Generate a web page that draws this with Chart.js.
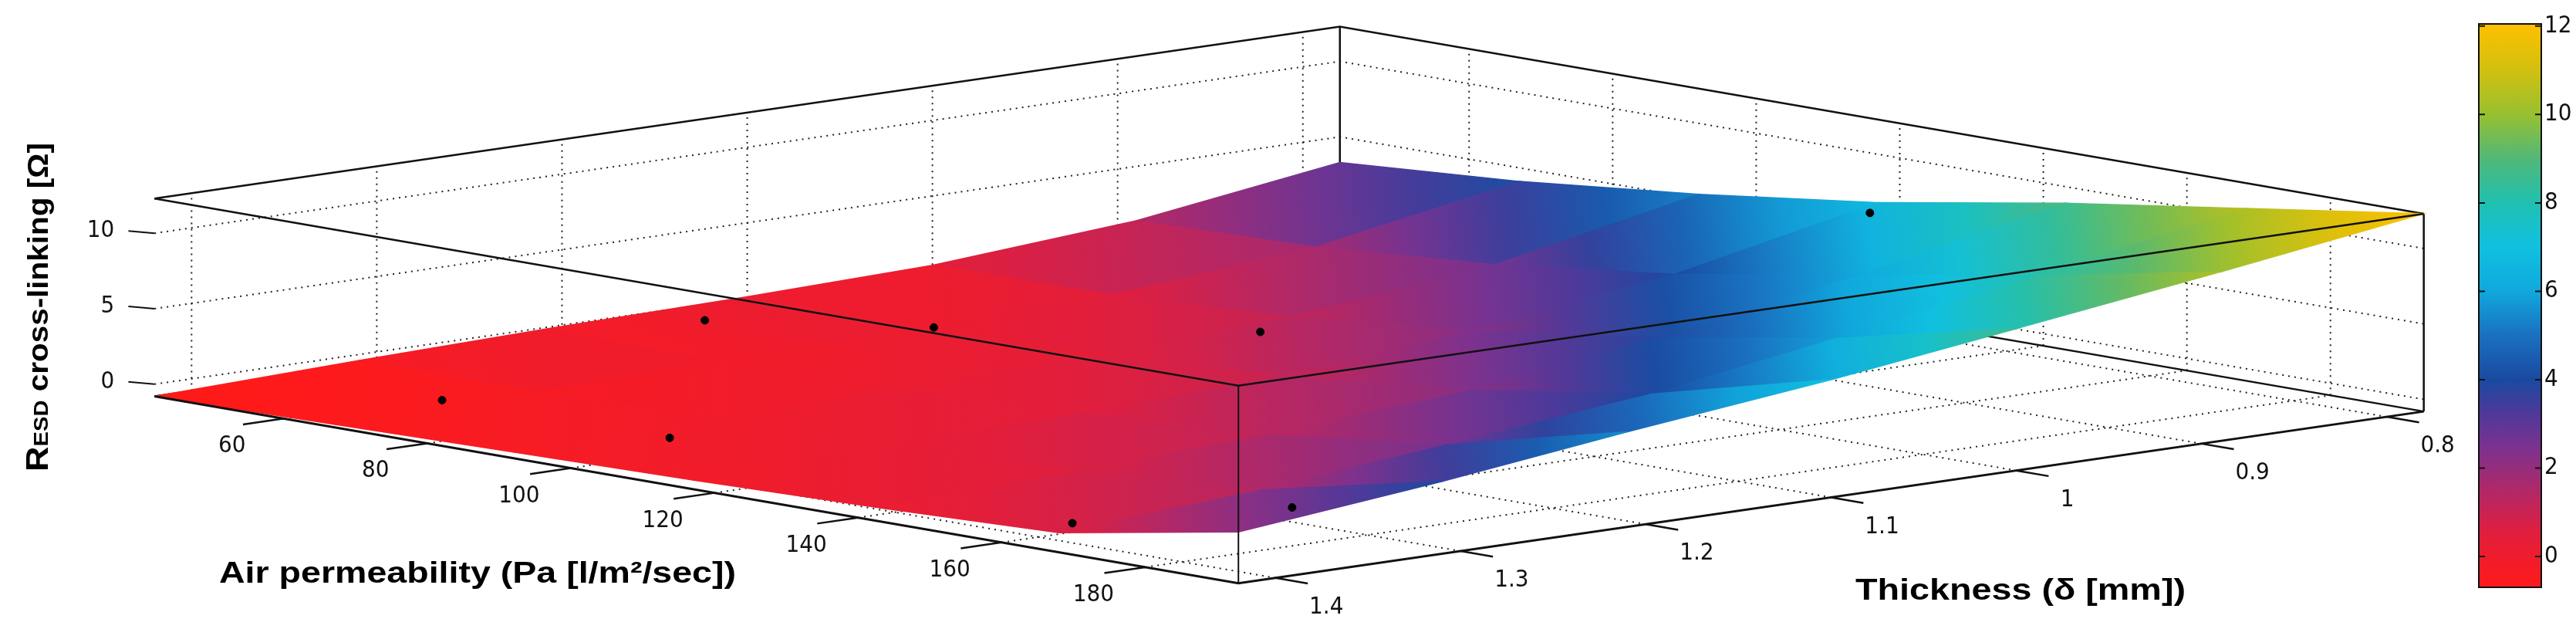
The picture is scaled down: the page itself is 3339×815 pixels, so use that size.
<!DOCTYPE html>
<html><head><meta charset="utf-8">
<script src="https://cdn.jsdelivr.net/npm/chart.js@4/dist/chart.umd.min.js"></script>
<style>html,body{margin:0;padding:0;background:#fff}#wrap{width:3339px;height:815px}</style>
</head><body><div id="wrap"><canvas id="c"></canvas></div>
<script>
// ---- data ----
const paGrid = [42, 67, 92, 117, 143, 168, 193];
const thGrid = [1.42, 1.31, 1.21, 1.10, 1.00, 0.89, 0.78];
// rows follow thGrid, columns follow paGrid
const rGrid = [
  [-0.8, -0.6, -0.4, -0.2, 0.1, 0.5, 2.6],
  [-0.4, -0.4, -0.1, 0.2, 0.6, 1.4, 4.0],
  [-0.1, -0.2, 0.1, 0.5, 1.2, 2.6, 5.5],
  [0.1, 0.0, 0.4, 1.0, 2.2, 4.0, 7.0],
  [0.4, 0.5, 1.1, 2.2, 3.9, 5.9, 8.6],
  [1.4, 1.7, 2.6, 4.0, 6.1, 8.1, 10.4],
  [3.3, 4.1, 5.3, 6.8, 8.9, 10.6, 12.3]
];
const ptPa = [64, 97, 49, 68, 98, 166, 185, 121];
const ptTh = [1.35, 1.355, 1.15, 1.10, 1.04, 1.405, 1.36, 0.80];
const ptR  = [-0.5, -0.2, 0.0, 0.2, 1.3, 0.7, 2.5, 6.8];
const paTicks = [60, 80, 100, 120, 140, 160, 180];
const thTicks = [0.8, 0.9, 1.0, 1.1, 1.2, 1.3, 1.4];
const thTickLabels = ['0.8', '0.9', '1', '1.1', '1.2', '1.3', '1.4'];
const zTicks = [0, 5, 10];
const cbTicks = [0, 2, 4, 6, 8, 10, 12];
const PA_MIN = 42, PA_MAX = 193, TH_MIN = 0.78, TH_MAX = 1.42, Z_MIN = -0.8, Z_MAX = 12.3;
const C_MIN = -0.7, C_MAX = 12.05;

// ---- projection (view) ----
function proj(pa, th, z) {
  const u = (pa - PA_MIN) / (PA_MAX - PA_MIN);
  const v = (TH_MAX - th) / (TH_MAX - TH_MIN);
  const w = (z - Z_MIN) / (Z_MAX - Z_MIN);
  return { x: 195 + 1410 * u + 1542 * v, y: 515 + 246 * u - 226 * v - 260 * w };
}
const cmapStops = [
  [-0.7, [255, 26, 26]], [0.5, [226, 30, 60]], [1.5, [176, 40, 104]], [2.5, [122, 50, 144]],
  [3.3, [74, 58, 154]], [4.0, [26, 74, 160]], [5.0, [26, 112, 192]], [6.0, [16, 168, 220]],
  [7.0, [16, 192, 224]], [8.0, [32, 192, 176]], [9.0, [80, 184, 120]], [10.0, [152, 192, 48]],
  [11.0, [208, 192, 16]], [12.05, [255, 192, 0]]
];
function cmap(z) {
  if (z <= cmapStops[0][0]) return 'rgb(' + cmapStops[0][1].join(',') + ')';
  for (let i = 1; i < cmapStops.length; i++) {
    if (z <= cmapStops[i][0]) {
      const a = cmapStops[i - 1], b = cmapStops[i], t = (z - a[0]) / (b[0] - a[0]);
      const c = a[1].map((q, k) => Math.round(q + (b[1][k] - q) * t));
      return 'rgb(' + c.join(',') + ')';
    }
  }
  return 'rgb(' + cmapStops[cmapStops.length - 1][1].join(',') + ')';
}

const seq = [];
function line(pts, opts) {
  seq.push(Object.assign({ data: pts, showLine: true, pointRadius: 0, borderColor: '#111', borderWidth: 2.5, fill: false, tension: 0 }, opts || {}));
}
const dotted = { borderDash: [2, 6], borderWidth: 2, borderColor: '#222' };
paTicks.forEach(p => {
  line([proj(p, TH_MIN, Z_MIN), proj(p, TH_MIN, Z_MAX)], dotted);
  line([proj(p, TH_MAX, Z_MIN), proj(p, TH_MIN, Z_MIN)], dotted);
});
thTicks.forEach(t => {
  line([proj(PA_MIN, t, Z_MIN), proj(PA_MIN, t, Z_MAX)], dotted);
  line([proj(PA_MIN, t, Z_MIN), proj(PA_MAX, t, Z_MIN)], dotted);
});
zTicks.forEach(z => {
  line([proj(PA_MIN, TH_MAX, z), proj(PA_MIN, TH_MIN, z), proj(PA_MAX, TH_MIN, z)], dotted);
});
line([proj(PA_MIN, TH_MAX, Z_MAX), proj(PA_MIN, TH_MIN, Z_MAX), proj(PA_MAX, TH_MIN, Z_MAX)]);
line([proj(PA_MIN, TH_MIN, Z_MIN), proj(PA_MIN, TH_MIN, Z_MAX)]);
line([proj(PA_MIN, TH_MAX, Z_MIN), proj(PA_MIN, TH_MIN, Z_MIN), proj(PA_MAX, TH_MIN, Z_MIN)]);
line([proj(PA_MAX, TH_MIN, Z_MIN), proj(PA_MAX, TH_MIN, Z_MAX)]);

for (let i = rGrid.length - 2; i >= 0; i--) {
  for (let j = 0; j < paGrid.length - 1; j++) {
    const cs = [[i, j], [i, j + 1], [i + 1, j + 1], [i + 1, j]];
    const pts = cs.map(([a, b]) => proj(paGrid[b], thGrid[a], rGrid[a][b]));
    pts.push(pts[0]);
    const zs = cs.map(([a, b]) => rGrid[a][b]);
    const grad = function (ctx) {
      const ch = ctx.chart; if (!ch.chartArea) return cmap(zs[0]);
      const sx = ch.scales.x, sy = ch.scales.y;
      let lo = 0, hi = 0;
      zs.forEach((z, k) => { if (z < zs[lo]) lo = k; if (z > zs[hi]) hi = k; });
      const pl = pts[lo], ph = pts[hi];
      const g = ch.ctx.createLinearGradient(sx.getPixelForValue(pl.x), sy.getPixelForValue(pl.y), sx.getPixelForValue(ph.x), sy.getPixelForValue(ph.y) + 0.01);
      const zl = zs[lo], zh = zs[hi];
      for (let s = 0; s <= 4; s++) g.addColorStop(s / 4, cmap(zl + (zh - zl) * s / 4));
      return g;
    };
    seq.push({ data: pts, showLine: true, pointRadius: 0, tension: 0, fill: 'shape', backgroundColor: grad, borderColor: grad, borderWidth: 1.5 });
  }
}
seq.push({ data: ptPa.map((p, k) => proj(p, ptTh[k], ptR[k])), pointRadius: 5, backgroundColor: '#000', borderColor: '#000', showLine: false });
line([proj(PA_MIN, TH_MAX, Z_MAX), proj(PA_MAX, TH_MAX, Z_MAX), proj(PA_MAX, TH_MIN, Z_MAX)]);
line([proj(PA_MAX, TH_MAX, Z_MIN), proj(PA_MAX, TH_MAX, Z_MAX)], { borderWidth: 2 });
line([proj(PA_MIN, TH_MAX, Z_MIN), proj(PA_MAX, TH_MAX, Z_MIN), proj(PA_MAX, TH_MIN, Z_MIN)], { borderWidth: 3 });
paTicks.forEach(p => line([proj(p, TH_MAX, Z_MIN), proj(p, TH_MAX + 0.022, Z_MIN)], { borderWidth: 2.5 }));
thTicks.forEach(t => line([proj(PA_MAX, t, Z_MIN), proj(PA_MAX + 4.5, t, Z_MIN)], { borderWidth: 2.5 }));
zTicks.forEach(z => { const a = proj(PA_MIN, TH_MAX, z); line([a, { x: a.x - 34, y: a.y - 3 }], { borderWidth: 2 }); });

const textPlugin = {
  id: 'texts',
  afterDraw(chart) {
    const c = chart.ctx, sx = chart.scales.x, sy = chart.scales.y;
    const P = p => ({ x: sx.getPixelForValue(p.x), y: sy.getPixelForValue(p.y) });
    c.save();
    c.fillStyle = '#111';
    c.textBaseline = 'middle';
    c.font = "31px 'Liberation Sans Narrow', 'DejaVu Sans Condensed', sans-serif";
    c.textAlign = 'center';
    paTicks.forEach(p => { const q = P(proj(p, TH_MAX, Z_MIN)); c.fillText(String(p), q.x - 67, q.y + 36); });
    thTicks.forEach((t, k) => { const q = P(proj(PA_MAX, t, Z_MIN)); c.fillText(thTickLabels[k], q.x + 66, q.y + 38); });
    c.textAlign = 'right';
    zTicks.forEach(z => { const q = P(proj(PA_MIN, TH_MAX, z)); c.fillText(String(z), q.x - 52, q.y - 3); });
    function fitText(txt, cx, cy, wTarget, font) {
      c.font = font; const w = c.measureText(txt).width;
      c.save(); c.translate(cx, cy); c.scale(wTarget / w, 1); c.textAlign = 'center'; c.fillText(txt, 0, 0); c.restore();
    }
    c.fillStyle = '#000';
    fitText('Air permeability (Pa [l/m\u00B2/sec])', 619, 745, 670, "bold 38px 'Liberation Sans', sans-serif");
    fitText('Thickness (\u03B4 [mm])', 2619, 767, 428, "bold 38px 'Liberation Sans', sans-serif");
    c.save();
    c.translate(49, 398); c.rotate(-Math.PI / 2);
    const parts = [['R', "bold 40px 'Liberation Sans', sans-serif"], ['ESD', "bold 26px 'Liberation Sans', sans-serif"], [' cross-linking [\u03A9]', "bold 36px 'Liberation Sans', sans-serif"]];
    let tot = 0; parts.forEach(p => { c.font = p[1]; tot += c.measureText(p[0]).width; });
    const k = 426 / tot; c.scale(k, 1);
    let xx = -tot / 2; c.textAlign = 'left'; c.textBaseline = 'alphabetic';
    parts.forEach(p => { c.font = p[1]; c.fillText(p[0], xx, 13); xx += c.measureText(p[0]).width; });
    c.restore();
    const x0 = 3213, x1 = 3294, yTop = 31, yBot = 761;
    const yOf = v => yBot - (v - C_MIN) / (C_MAX - C_MIN) * (yBot - yTop);
    const g = c.createLinearGradient(0, yBot, 0, yTop);
    cmapStops.forEach(s => g.addColorStop((s[0] - C_MIN) / (C_MAX - C_MIN), 'rgb(' + s[1].join(',') + ')'));
    c.fillStyle = g; c.fillRect(x0, yTop, x1 - x0, yBot - yTop);
    c.strokeStyle = '#111'; c.lineWidth = 2; c.strokeRect(x0, yTop, x1 - x0, yBot - yTop);
    c.fillStyle = '#111'; c.textAlign = 'left'; c.textBaseline = 'middle';
    c.font = "31px 'Liberation Sans Narrow', 'DejaVu Sans Condensed', sans-serif";
    cbTicks.forEach(v => {
      const y = yOf(v);
      c.beginPath(); c.moveTo(x1, y); c.lineTo(x1 - 8, y); c.moveTo(x0, y); c.lineTo(x0 + 8, y); c.stroke();
      c.fillText(String(v), x1 + 4, y);
    });
    c.restore();
  }
};

new Chart(document.getElementById('c'), {
  type: 'scatter',
  data: { datasets: seq.slice().reverse() },
  options: {
    responsive: true, maintainAspectRatio: false, animation: false, devicePixelRatio: 1,
    layout: { padding: 0 },
    plugins: { legend: { display: false }, tooltip: { enabled: false } },
    scales: {
      x: { type: 'linear', min: 0, max: 3339, display: false },
      y: { type: 'linear', min: 0, max: 815, reverse: true, display: false }
    }
  },
  plugins: [textPlugin]
});
</script></body></html>
